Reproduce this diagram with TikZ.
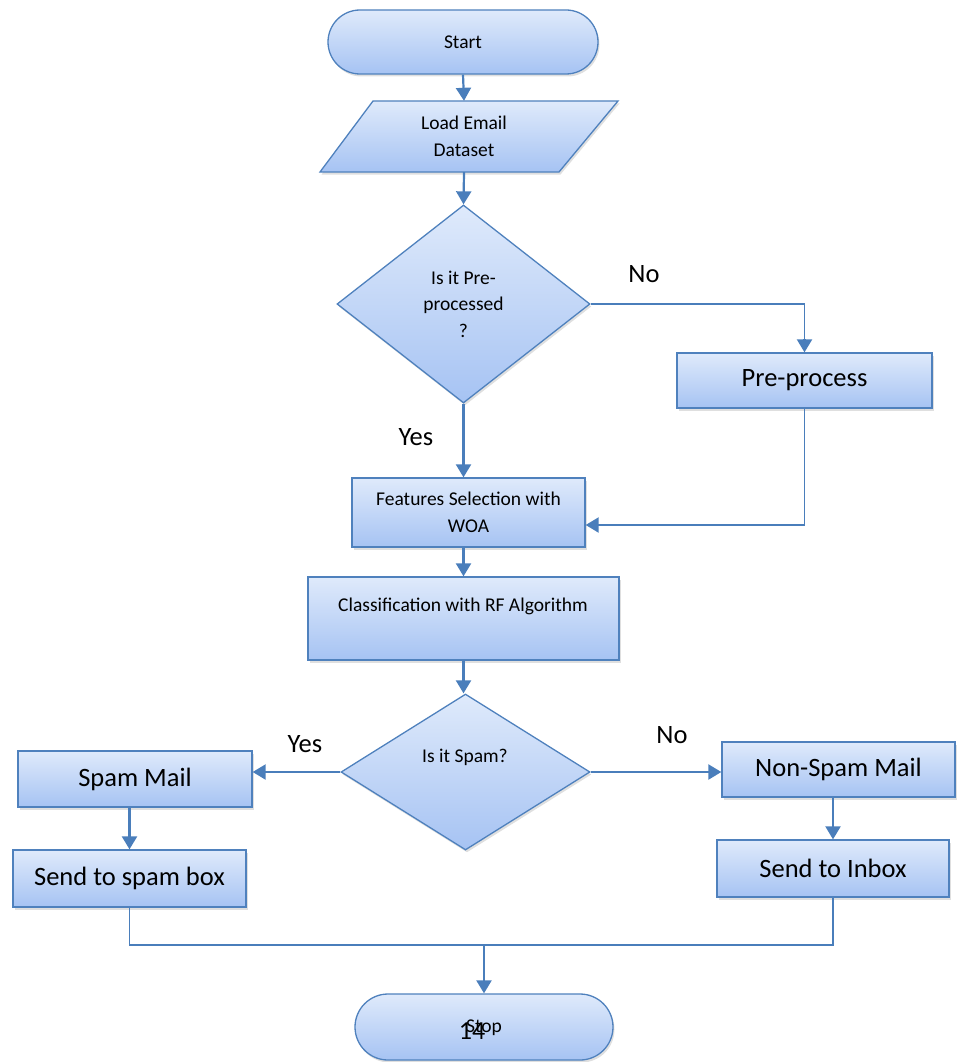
\documentclass[tikz,border=0pt]{standalone}
\usepackage{fontspec}
\setmainfont{Carlito}
\usetikzlibrary{arrows.meta,shapes.geometric,shadows,calc}
\definecolor{bord}{HTML}{4F81BD}
\definecolor{topc}{HTML}{DFEAFB}
\definecolor{botc}{HTML}{A6C3F3}
\definecolor{linec}{HTML}{4A7EBB}
\begin{document}
\begin{tikzpicture}[x=1pt,y=-1pt,
  blk/.style={draw=bord, line width=1.3pt, top color=topc, bottom color=botc,
    inner sep=0pt, align=center,
    drop shadow={shadow xshift=1.5pt, shadow yshift=-2.5pt, opacity=0.25}},
  stext/.style={font=\fontsize{19.5}{26.5}\selectfont},
  ltext/.style={font=\fontsize{26.5}{32}\selectfont},
  flow/.style={draw=linec, line width=2.2pt, -{Triangle[length=13pt,width=15pt]}},
  conn/.style={draw=linec, line width=1.7pt},
  thin/.style={draw=linec, line width=1.5pt}]
\useasboundingbox (0,0) rectangle (957,1062);

% shapes
\node[blk, stext, rounded corners=32pt, minimum width=270pt, minimum height=64pt] (start) at (463,42) {Start};
\path[draw=bord, line width=1.3pt, top color=topc, bottom color=botc,
  drop shadow={shadow xshift=1.5pt, shadow yshift=-2.5pt, opacity=0.25}]
  (373,101) -- (618,101) -- (559,172) -- (320,172) -- cycle;
\node[stext, align=center, minimum height=71pt, inner sep=0pt] (load) at (464,136.5) {Load Email\\Dataset};
\node[blk, stext, diamond, minimum width=253pt, minimum height=198pt] (d1) at (463.5,304) {Is it Pre-\\processed\\?};
\node[blk, ltext, minimum width=255pt, minimum height=55pt] (pre) at (804.5,380.5) {Pre-process};
\node[blk, stext, minimum width=233pt, minimum height=69pt] (feat) at (468.5,512.5) {Features Selection with\\WOA};
\node[blk, minimum width=311pt, minimum height=83pt] (class) at (463.5,618.5) {};
\node[stext, anchor=base] (classtxt) at (463,611) {Classification with RF Algorithm};
\node[blk, diamond, minimum width=249pt, minimum height=156pt] (d2) at (465.5,772) {};
\node[stext] (d2txt) at (465,757) {Is it Spam?};
\node[blk, ltext, minimum width=234pt, minimum height=56pt] (spam) at (135,779) {Spam Mail};
\node[blk, ltext, minimum width=233pt, minimum height=57pt] (sendspam) at (129.5,878.5) {Send to spam box};
\node[blk, ltext, minimum width=233pt, minimum height=55pt] (nonspam) at (838.5,769.5) {Non-Spam Mail};
\node[blk, ltext, minimum width=232pt, minimum height=57pt] (inbox) at (833,868.5) {Send to Inbox};
\node[blk, rounded corners=33pt, minimum width=258pt, minimum height=66pt] (stop) at (484,1027) {};
\node[stext, anchor=base] (stoptxt) at (484,1032) {Stop};
\node[font=\fontsize{26}{30}\selectfont, anchor=base] (pagenum) at (472,1039) {14};

% labels
\node[ltext, anchor=base] (no1) at (644,282) {No};
\node[ltext, anchor=base] (yes1) at (416,445) {Yes};
\node[ltext, anchor=base] (yes2) at (305,752) {Yes};
\node[ltext, anchor=base] (no2) at (672,743) {No};

% connectors
\coordinate (join) at (484,945);
\draw[flow] (start.south) -- (load.north);
\draw[flow] (load.south) -- (d1.north);
\draw[thin] (d1.east) -| ([yshift=12pt]pre.north);
\draw[flow] ([yshift=13pt]pre.north) -- (pre.north);
\draw[thin] (pre.south) |- ([xshift=14pt,yshift=-12.5pt]feat.east);
\draw[flow] ([xshift=15pt,yshift=-12.5pt]feat.east) -- ([yshift=-12.5pt]feat.east);
\draw[flow] (d1.south) -- (d1.south |- feat.north);
\draw[flow] (feat.south -| class.north) -- (class.north);
\draw[flow] (class.south) -- (class.south |- d2.north);
\draw[flow] (d2.west) -- (d2.west -| spam.east);
\draw[flow] (d2.east) -- (d2.east -| nonspam.west);
\draw[flow] (sendspam.north |- spam.south) -- (sendspam.north);
\draw[flow] (inbox.north |- nonspam.south) -- (inbox.north);
\draw[conn] (sendspam.south) |- (join) -| (inbox.south);
\draw[flow] (join) -- (stop.north);
\end{tikzpicture}
\end{document}
